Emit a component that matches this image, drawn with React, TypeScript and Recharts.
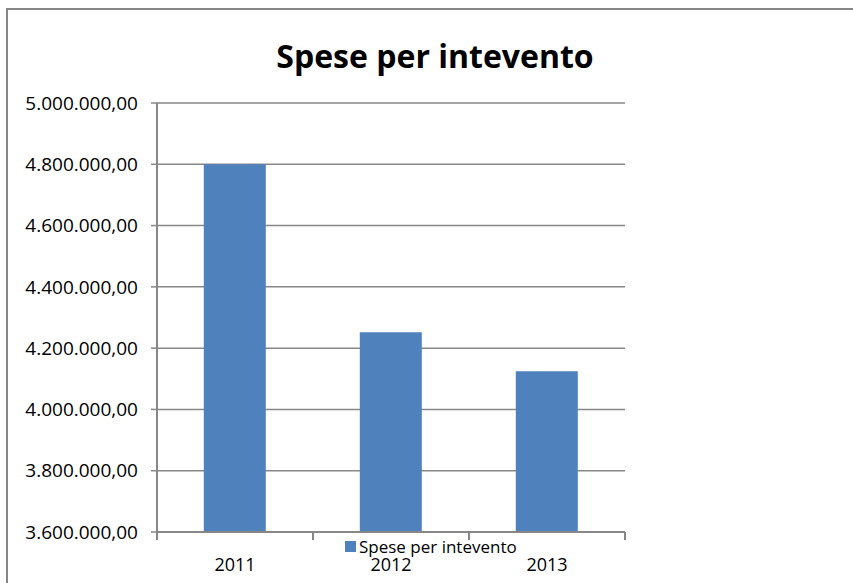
import { BarChart, Bar, XAxis, YAxis, CartesianGrid, Legend } from "recharts";

const years = ["2011", "2012", "2013"];
const spese = [4800000, 4252000, 4125000];
const yTicks = [3600000, 3800000, 4000000, 4200000, 4400000, 4600000, 4800000, 5000000];

const seriesName = "Spese per intevento";
const BAR_COLOR = "#4F81BD";
const AXIS_COLOR = "#878787";
const FONT = "'Open Sans', 'DejaVu Sans', sans-serif";

const data = years.map((year, i) => ({ year, value: spese[i] }));

// 4800000 -> "4.800.000,00"
function formatIt(v: number) {
  const int = Math.round(v).toString().replace(/\B(?=(\d{3})+(?!\d))/g, ".");
  return `${int},00`;
}

function YearTick(props: any) {
  const { x, y, payload, index } = props;
  const half = payload.offset || 0;
  return (
    <g>
      {index === 0 && (
        <line x1={x - half} y1={y - 8} x2={x - half} y2={y} stroke={AXIS_COLOR} strokeWidth={2} />
      )}
      <line x1={x + half} y1={y - 8} x2={x + half} y2={y} stroke={AXIS_COLOR} strokeWidth={2} />
      <text x={x} y={y + 31} textAnchor="middle" fontSize={18} fontFamily={FONT} fill="#000">
        {payload.value}
      </text>
    </g>
  );
}

function LegendBox() {
  return (
    <div style={{ display: "flex", alignItems: "center", fontFamily: FONT, fontSize: 17, color: "#000" }}>
      <span style={{ width: 11, height: 11, background: BAR_COLOR, display: "inline-block", marginRight: 3 }} />
      <span>{seriesName}</span>
    </div>
  );
}

export default function App() {
  return (
    <div style={{ position: "absolute", left: 0, top: 0, width: 853, height: 583, background: "#fff", overflow: "hidden" }}>
      {/* chart frame: only the top and left edges are inside the picture */}
      <div
        style={{
          position: "absolute",
          left: 6,
          top: 8,
          width: 900,
          height: 640,
          borderLeft: `2px solid ${AXIS_COLOR}`,
          borderTop: `2px solid ${AXIS_COLOR}`,
        }}
      />
      <div
        style={{
          position: "absolute",
          left: 0,
          width: 870,
          top: 34,
          textAlign: "center",
          fontFamily: FONT,
          fontWeight: 700,
          fontSize: 32,
          color: "#000",
        }}
      >
        {seriesName}
      </div>
      <div style={{ position: "absolute", left: 0, top: 0 }}>
        <BarChart
          width={853}
          height={583}
          data={data}
          margin={{ top: 103, right: 228, bottom: 11, left: 0 }}
          barCategoryGap="30%"
        >
          <CartesianGrid horizontal vertical={false} stroke={AXIS_COLOR} strokeWidth={1.5} />
          <XAxis
            dataKey="year"
            height={40}
            axisLine={{ stroke: AXIS_COLOR, strokeWidth: 2 }}
            tickLine={false}
            tick={<YearTick />}
            interval={0}
          />
          <YAxis
            width={157}
            domain={[3600000, 5000000]}
            ticks={yTicks}
            allowDataOverflow
            tickFormatter={formatIt}
            axisLine={{ stroke: AXIS_COLOR, strokeWidth: 2 }}
            tickLine={{ stroke: AXIS_COLOR, strokeWidth: 1.5 }}
            tickSize={6}
            tickMargin={13}
            tick={{ fontSize: 19, fontFamily: FONT, fill: "#000" }}
          />
          <Legend
            layout="horizontal"
            align="center"
            verticalAlign="middle"
            wrapperStyle={{ position: "absolute", left: 345, top: 535, width: "auto" }}
            content={() => <LegendBox />}
          />
          <Bar dataKey="value" name={seriesName} fill={BAR_COLOR} isAnimationActive={false} />
        </BarChart>
      </div>
    </div>
  );
}
